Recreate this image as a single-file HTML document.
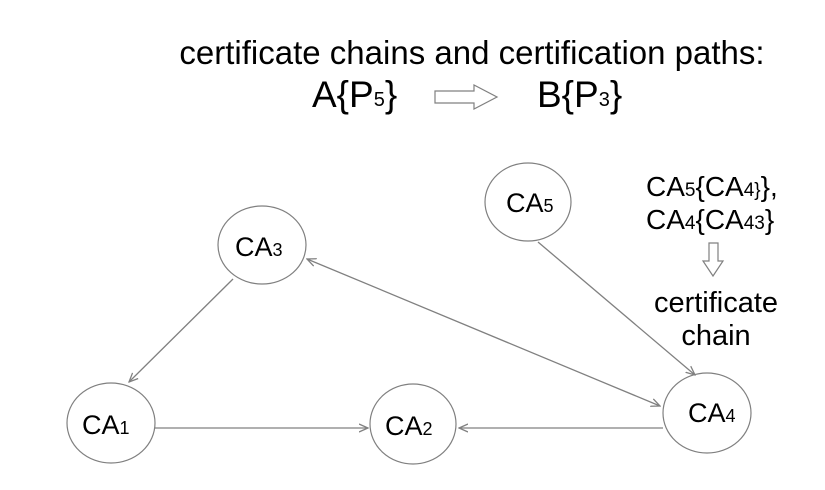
<!DOCTYPE html>
<html><head><style>
html,body{margin:0;padding:0;background:#fff;}
svg{display:block;font-family:"Liberation Sans",Arial,sans-serif;}
</style></head><body>
<svg width="825" height="490" viewBox="0 0 825 490" xmlns="http://www.w3.org/2000/svg">
<defs>
<marker id="a" markerWidth="10" markerHeight="10" refX="9" refY="5" orient="auto" markerUnits="userSpaceOnUse">
<path d="M0,1 L9,5 L0,9" fill="none" stroke="#808080" stroke-width="1.3"/>
</marker>
<marker id="s" markerWidth="10" markerHeight="10" refX="1" refY="5" orient="auto" markerUnits="userSpaceOnUse">
<path d="M10,1 L1,5 L10,9" fill="none" stroke="#808080" stroke-width="1.3"/>
</marker>
</defs>
<text x="472" y="64" font-size="33" text-anchor="middle" fill="#000">certificate chains and certification paths:</text>
<text x="312" y="107" font-size="37" fill="#000">A{P<tspan font-size="20" dy="-1">5</tspan><tspan dy="1">}</tspan></text>
<path d="M435,91 L474,91 L474,85 L497,97 L474,109 L474,103 L435,103 Z" fill="#fff" stroke="#808080" stroke-width="1.2"/>
<text x="537" y="107" font-size="37" fill="#000">B{P<tspan font-size="20" dy="-1">3</tspan><tspan dy="1">}</tspan></text>

<g fill="#fff" stroke="#808080" stroke-width="1.2">
<ellipse cx="262" cy="245" rx="44" ry="39"/>
<ellipse cx="111" cy="423" rx="44" ry="40"/>
<ellipse cx="413" cy="424" rx="43" ry="40"/>
<ellipse cx="528" cy="202" rx="43" ry="39"/>
<ellipse cx="707" cy="413" rx="44" ry="40"/>
</g>
<g stroke="#808080" stroke-width="1.3" fill="none">
<line x1="233" y1="279" x2="129" y2="382" marker-end="url(#a)"/>
<line x1="155" y1="428" x2="368" y2="428" marker-end="url(#a)"/>
<line x1="663" y1="428" x2="459" y2="428" marker-end="url(#a)"/>
<line x1="307" y1="259" x2="660" y2="406" marker-start="url(#s)" marker-end="url(#a)"/>
<line x1="538" y1="242" x2="695" y2="375" marker-end="url(#a)"/>
</g>
<g font-size="27" fill="#000">
<text x="235" y="256">CA<tspan font-size="18">3</tspan></text>
<text x="82" y="434">CA<tspan font-size="18">1</tspan></text>
<text x="385" y="435">CA<tspan font-size="18">2</tspan></text>
<text x="506" y="212">CA<tspan font-size="18">5</tspan></text>
<text x="688" y="422">CA<tspan font-size="18">4</tspan></text>
</g>
<g font-size="28" fill="#000">
<text x="646" y="196">CA<tspan font-size="19">5</tspan>{CA<tspan font-size="19">4}</tspan>},</text>
<text x="646" y="229">CA<tspan font-size="19">4</tspan>{CA<tspan font-size="19">43</tspan>}</text>
<text x="716" y="312" text-anchor="middle" font-size="29">certificate</text>
<text x="716" y="345" text-anchor="middle" font-size="29">chain</text>
</g>
<path d="M709,243 L718,243 L718,261 L723,261 L713,276 L703,261 L709,261 Z" fill="#fff" stroke="#808080" stroke-width="1.2"/>
</svg>
</body></html>
